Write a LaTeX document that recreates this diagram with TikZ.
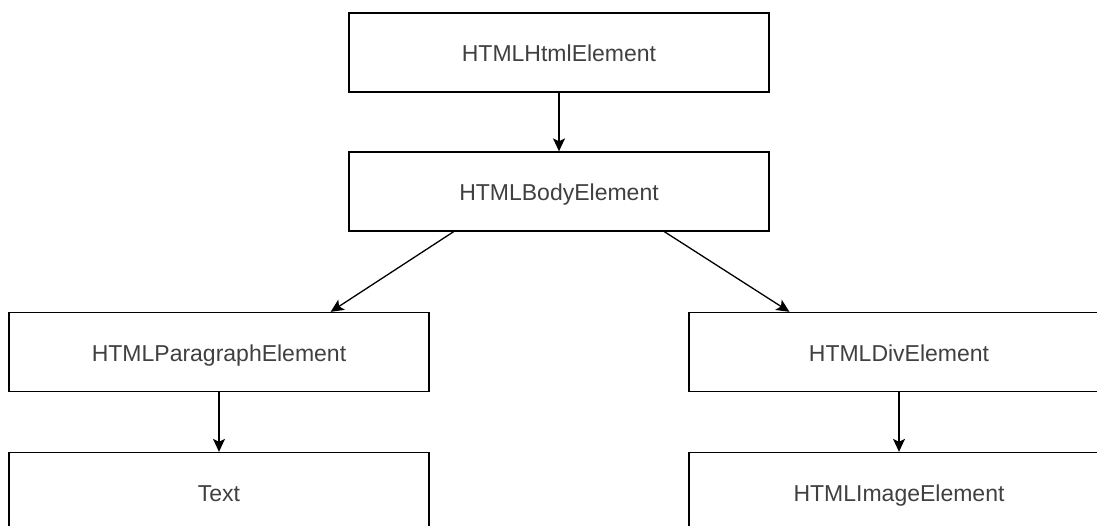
\documentclass[tikz,border=0pt]{standalone}
\usepackage{fontspec}
\setmainfont{Liberation Sans}
\usetikzlibrary{arrows.meta,calc}
\begin{document}
\begin{tikzpicture}[x=1pt,y=-1pt,
  elem/.style={draw=black, line width=1.3pt, fill=white, minimum width=420pt,
    minimum height=79pt, inner sep=0pt, text=black!75,
    text height=19pt, text depth=0pt,
    font=\fontsize{23}{27}\selectfont},
  link/.style={draw=black, line width=1.3pt,
    -{Stealth[length=13pt,width=12pt,inset=3pt]}}]
  \useasboundingbox (0,0) rectangle (1097,526);
  \begin{scope}
    \clip (0,0) rectangle (1097,526);
    \node[elem] (html) at (559,52.5) {HTMLHtmlElement};
    \node[elem] (body) at (559,191.5) {HTMLBodyElement};
    \node[elem] (para) at (219,352) {HTMLParagraphElement};
    \node[elem] (div) at (899,352) {HTMLDivElement};
    \node[elem] (text) at (219,492) {Text};
    \node[elem] (img) at (899,492) {HTMLImageElement};

    \draw[link] (html) -- (body);
    \draw[link] ($(body.south west)!0.25!(body.south east)$) -- ($(para.north west)!0.765!(para.north east)$);
    \draw[link] ($(body.south west)!0.75!(body.south east)$) -- ($(div.north west)!0.24!(div.north east)$);
    \draw[link] (para) -- (text);
    \draw[link] (div) -- (img);
  \end{scope}
\end{tikzpicture}
\end{document}
